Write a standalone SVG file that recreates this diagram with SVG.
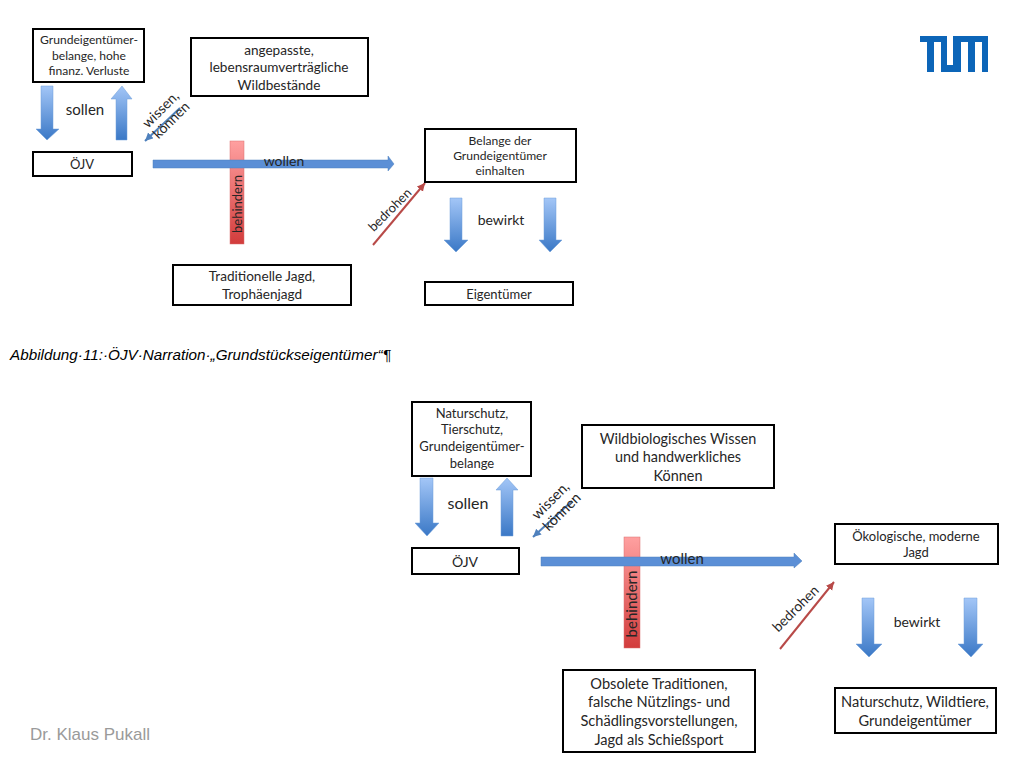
<svg xmlns="http://www.w3.org/2000/svg" width="1024" height="768" viewBox="0 0 1024 768">
<style>
text{font-family:"Lato","Liberation Sans",sans-serif;fill:#262626;text-anchor:middle}
.box{fill:#fff;stroke:#000;stroke-width:2}
.fat{fill:url(#blue);stroke:#6f9fd8;stroke-width:.5}
.bar{fill:url(#red);stroke:#d9706f;stroke-width:.5}
.wol{fill:#5b8fd6;stroke:#4f81bd;stroke-width:.5}
.thinb{stroke:#4f81bd;stroke-width:2;fill:none;marker-end:url(#hb)}
.thinr{stroke:#b84a48;stroke-width:2;fill:none;marker-end:url(#hr)}
.s12{font-size:12.1px}.s13{font-size:13px}.s135{font-size:13.6px}.s14{font-size:14px}.s144{font-size:14.4px}.s146{font-size:14.6px}.s15{font-size:15px}.s16{font-size:16px}
</style>
<defs>
<linearGradient id="blue" x1="0" y1="0" x2="0" y2="1"><stop offset="0" stop-color="#a3c6f7"/><stop offset="1" stop-color="#3a78c6"/></linearGradient>
<linearGradient id="red" x1="0" y1="0" x2="0" y2="1"><stop offset="0" stop-color="#ffa0a0"/><stop offset="1" stop-color="#d23c3c"/></linearGradient>
<marker id="hb" markerUnits="userSpaceOnUse" markerWidth="10" markerHeight="10" refX="8" refY="4" orient="auto"><path d="M0 0L8 4L0 8Z" fill="#4f81bd"/></marker>
<marker id="hr" markerUnits="userSpaceOnUse" markerWidth="10" markerHeight="10" refX="8" refY="4" orient="auto"><path d="M0 0L8 4L0 8Z" fill="#b84a48"/></marker>
</defs>
<rect width="1024" height="768" fill="#fff"/>

<g id="connectors">
<path class="fat" d="M41 86H53V129H59L47 140L36 129H41Z"/>
<path class="fat" d="M116 140H127V99H132L122 86L111 99H116Z"/>
<path class="thinb" d="M180 108L145 141"/>
<rect class="bar" x="230" y="141" width="14" height="103"/>
<path class="wol" d="M153 160H388V156L394 164L388 171V168H153Z"/>
<path class="thinr" d="M373 245L425 183"/>
<path class="fat" d="M450 198H462V240H468L456 252L444 240H450Z"/>
<path class="fat" d="M544 198H556V240H562L550 252L539 240H544Z"/>
<text class="s15" x="85" y="115">sollen</text>
<text class="s14" transform="translate(166 115) rotate(-45)"><tspan x="0" y="-3">wissen,</tspan><tspan x="0" y="12">können</tspan></text>
<text class="s14" x="284" y="166">wollen</text>
<text class="s13" transform="translate(242 204) rotate(-90)">behindern</text>
<text class="s13" transform="translate(393 213) rotate(-45)">bedrohen</text>
<text class="s14" x="501" y="225">bewirkt</text>

<path class="fat" d="M420 478H433V523H439L427 536L415 523H420Z"/>
<path class="fat" d="M501 536H513V490H518L507 478L496 490H501Z"/>
<path class="thinb" d="M572 501L533 537"/>
<rect class="bar" x="624" y="537" width="16" height="111"/>
<path class="wol" d="M541 557H794V553L802 561L794 568V566H541Z"/>
<path class="thinr" d="M780 649L834 582"/>
<path class="fat" d="M862 598H874V644H882L869 657L856 644H862Z"/>
<path class="fat" d="M964 598H977V644H983L971 657L958 644H964Z"/>
<text class="s16" x="468" y="509">sollen</text>
<text class="s144" transform="translate(556 506) rotate(-45)"><tspan x="0" y="-3">wissen,</tspan><tspan x="0" y="13">können</tspan></text>
<text class="s15" x="682" y="564">wollen</text>
<text class="s15" transform="translate(637 604) rotate(-90)">behindern</text>
<text class="s14" transform="translate(799 612) rotate(-45)">bedrohen</text>
<text class="s14" x="917" y="627">bewirkt</text>
</g>

<g id="n1"><rect class="box" x="33" y="29" width="111" height="53"/>
<text class="s12" x="89" y="44">Grundeigentümer-</text><text class="s12" x="89" y="60">belange, hohe</text><text class="s12" x="89" y="75">finanz. Verluste</text></g>
<g id="n2"><rect class="box" x="191" y="38" width="177" height="58"/>
<text class="s135" x="279" y="55">angepasste,</text><text class="s135" x="279" y="72">lebensraumverträgliche</text><text class="s135" x="279" y="90">Wildbestände</text></g>
<g id="n3"><rect class="box" x="33" y="152" width="99" height="24"/><text class="s13" x="82" y="169">ÖJV</text></g>
<g id="n4"><rect class="box" x="173" y="265" width="178" height="40"/>
<text class="s135" x="262" y="281">Traditionelle Jagd,</text><text class="s135" x="262" y="299">Trophäenjagd</text></g>
<g id="n5"><rect class="box" x="425" y="129" width="151" height="53"/>
<text class="s12" x="500" y="145">Belange der</text><text class="s12" x="500" y="160">Grundeigentümer</text><text class="s12" x="500" y="175">einhalten</text></g>
<g id="n6"><rect class="box" x="425" y="282" width="148" height="23"/><text class="s13" x="499" y="299">Eigentümer</text></g>

<text id="caption" x="10" y="360" style="font-family:'Liberation Sans',sans-serif;font-style:italic;font-size:15.25px;text-anchor:start;fill:#000">Abbildung·11:·ÖJV·Narration·„Grundstückseigentümer“¶</text>

<g id="n7"><rect class="box" x="412" y="402" width="119" height="74"/>
<text class="s13" x="472" y="418">Naturschutz,</text><text class="s13" x="472" y="434">Tierschutz,</text><text class="s13" x="472" y="451">Grundeigentümer-</text><text class="s13" x="472" y="468">belange</text></g>
<g id="n8"><rect class="box" x="582" y="425" width="192" height="63"/>
<text class="s144" x="678" y="444">Wildbiologisches Wissen</text><text class="s144" x="678" y="462">und handwerkliches</text><text class="s144" x="678" y="481">Können</text></g>
<g id="n9"><rect class="box" x="412" y="548" width="107" height="26"/><text class="s14" x="465" y="567">ÖJV</text></g>
<g id="n10"><rect class="box" x="835" y="524" width="163" height="40"/>
<text class="s13" x="916" y="541">Ökologische, moderne</text><text class="s13" x="916" y="557">Jagd</text></g>
<g id="n11"><rect class="box" x="563" y="670" width="192" height="82"/>
<text class="s146" x="659" y="689">Obsolete Traditionen,</text><text class="s146" x="659" y="707">falsche Nützlings- und</text><text class="s146" x="659" y="726">Schädlingsvorstellungen,</text><text class="s146" x="659" y="745">Jagd als Schießsport</text></g>
<g id="n12"><rect class="box" x="835" y="688" width="161" height="45"/>
<text class="s146" x="915" y="707">Naturschutz, Wildtiere,</text><text class="s146" x="915" y="726">Grundeigentümer</text></g>

<path id="logo" fill="#0c65b8" d="M920 36H947V65H953V36H988V72H982V42H975V72H968V42H961V72H941V42H934V72H927V42H920Z"/>
<text id="footer" x="30" y="740" style="font-family:'Liberation Sans',sans-serif;font-size:17px;text-anchor:start;fill:#9a9a9a">Dr. Klaus Pukall</text>
</svg>
